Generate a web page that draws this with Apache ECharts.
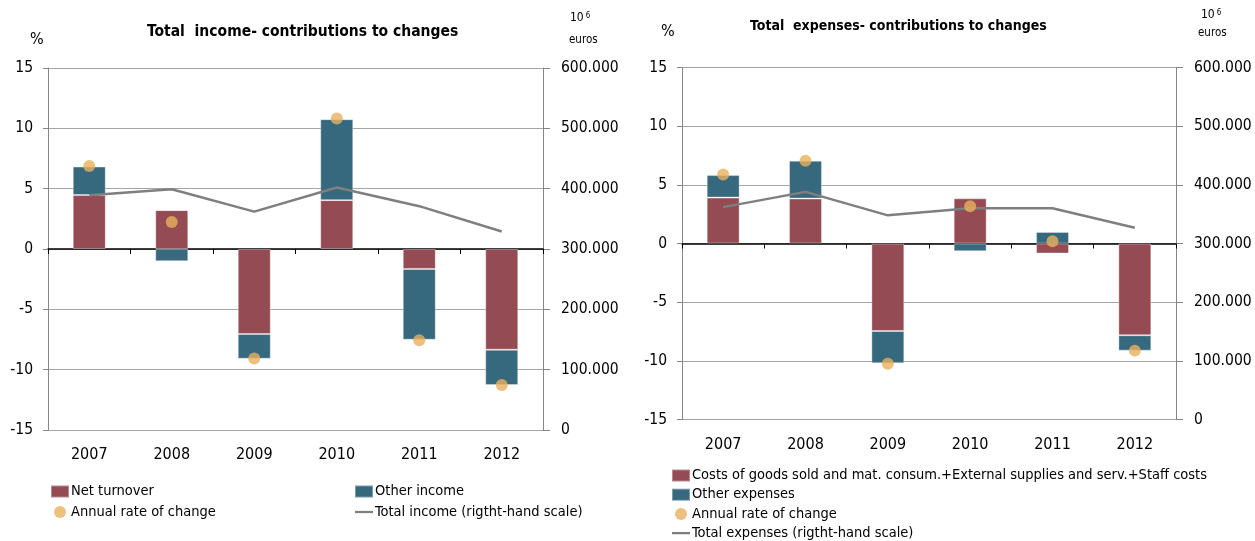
<!DOCTYPE html>
<html><head><meta charset="utf-8">
<script src="https://cdn.jsdelivr.net/npm/echarts@6/dist/echarts.min.js"></script>
<style>html,body{margin:0;padding:0;background:#fff}#c{width:1255px;height:541px}</style>
</head><body><div id="c"></div>
<script>
// ---- data ----
const years = ['2007', '2008', '2009', '2010', '2011', '2012'];
// left chart: Total income (contributions, % points)
const netTurnover = [4.47, 3.22, -7.05, 4.05, -1.65, -8.35];
const otherIncome = [2.36, -1.01, -2.05, 6.71, -5.87, -2.93];
const incomeRate = [6.88, 2.23, -9.07, 10.81, -7.57, -11.28];
const totalIncome = [389000, 399000, 362000, 402000, 371000, 329000]; // 10^6 euros
// right chart: Total expenses
const costs = [3.91, 3.83, -7.46, 3.85, -0.85, -7.82];
const otherExpenses = [1.92, 3.23, -2.75, -0.65, 0.99, -1.31];
const expensesRate = [5.89, 7.06, -10.24, 3.17, 0.20, -9.13];
const totalExpenses = [362000, 388000, 348000, 360000, 360000, 327000];
// axis ticks
const pctMin = -15, pctMax = 15, pctStep = 5;
const eurMin = 0, eurMax = 600000, eurStep = 100000;

const FONT = "'Liberation Sans Narrow','Arial Narrow','DejaVu Sans Condensed',sans-serif";
const RED = '#954b53', TEAL = '#37697e', DOT = '#e9b05c', LINE = '#7f7f7f', AX = '#868686';

function eur(v) { return String(v).replace(/\B(?=(\d{3})+(?!\d))/g, '.'); }

const grids = [
  { left: 48, right: 712, top: 68, bottom: 111 },
  { left: 682, right: 79, top: 67.5, bottom: 121.5 }
];

const xAxis = [], yAxis = [];
grids.forEach((g, i) => {
  xAxis.push({
    type: 'category', data: years, gridIndex: i, position: 'bottom',
    axisLine: { show: false, onZero: false }, axisTick: { show: false },
    axisLabel: { fontFamily: FONT, fontSize: 16, color: '#000', margin: 17 }
  });
  xAxis.push({
    type: 'category', data: years, gridIndex: i, position: 'top',
    axisLine: { show: true, onZero: true, lineStyle: { color: '#000', width: 1.5 } },
    axisTick: { show: true, inside: true, length: 5, lineStyle: { color: '#000' } },
    axisLabel: { show: false }
  });
  yAxis.push({
    type: 'value', gridIndex: i, position: 'left', min: pctMin, max: pctMax, interval: pctStep,
    axisLine: { show: true, lineStyle: { color: AX } },
    axisTick: { show: true, length: 5, lineStyle: { color: AX } },
    splitLine: { show: true, lineStyle: { color: '#a6a6a6' } },
    axisLabel: { fontFamily: FONT, fontSize: 15.5, color: '#000', margin: 15 }
  });
  yAxis.push({
    type: 'value', gridIndex: i, position: 'right', min: eurMin, max: eurMax, interval: eurStep,
    axisLine: { show: true, lineStyle: { color: AX } },
    axisTick: { show: true, length: 7, lineStyle: { color: AX } },
    splitLine: { show: false },
    axisLabel: { fontFamily: FONT, fontSize: 15.5, color: '#000', margin: 18, formatter: eur }
  });
});

function barSeries(name, data, color, gi, stack) {
  return { name, type: 'bar', data, stack, xAxisIndex: gi * 2, yAxisIndex: gi * 2,
    barWidth: '40%', itemStyle: { color, borderColor: 'rgba(255,255,255,0.35)', borderWidth: 1 }, z: 2 };
}
function dotSeries(name, data, gi) {
  return { name, type: 'scatter', data, xAxisIndex: gi * 2, yAxisIndex: gi * 2,
    symbolSize: 12, itemStyle: { color: DOT }, z: 5 };
}
function lineSeries(name, data, gi) {
  return { name, type: 'line', data, xAxisIndex: gi * 2, yAxisIndex: gi * 2 + 1,
    symbol: 'none', lineStyle: { color: LINE, width: 2.5 }, itemStyle: { color: LINE }, z: 4 };
}

const series = [
  barSeries('Net turnover', netTurnover, RED, 0, 'inc'),
  barSeries('Other income', otherIncome, TEAL, 0, 'inc'),
  dotSeries('Annual rate of change', incomeRate, 0),
  lineSeries('Total income (rigtht-hand scale)', totalIncome, 0),
  barSeries('Costs of goods sold and mat. consum.+External supplies and serv.+Staff costs', costs, RED, 1, 'exp'),
  barSeries('Other expenses', otherExpenses, TEAL, 1, 'exp'),
  dotSeries('Annual rate of change ', expensesRate, 1),
  lineSeries('Total expenses (rigtht-hand scale)', totalExpenses, 1)
];

const LINE_ICON = 'path://M0,0 L20,0 L20,2.5 L0,2.5 Z';
const legendBase = {
  orient: 'vertical', itemWidth: 18, itemHeight: 12, itemGap: 5.5, padding: 0,
  selectedMode: false,
  textStyle: { fontFamily: FONT, fontSize: 14.5, color: '#000', padding: [0, 0, 0, -3] }
};
const legend = [
  Object.assign({}, legendBase, { left: 50, top: 484, data: [
    { name: 'Net turnover', icon: 'rect' },
    { name: 'Annual rate of change', icon: 'circle' }] }),
  Object.assign({}, legendBase, { left: 354, top: 484, data: [
    { name: 'Other income', icon: 'rect' },
    { name: 'Total income (rigtht-hand scale)', icon: LINE_ICON }] }),
  Object.assign({}, legendBase, { left: 671, top: 468, itemGap: 4.2, data: [
    { name: 'Costs of goods sold and mat. consum.+External supplies and serv.+Staff costs', icon: 'rect' },
    { name: 'Other expenses', icon: 'rect' },
    { name: 'Annual rate of change ', icon: 'circle' },
    { name: 'Total expenses (rigtht-hand scale)', icon: LINE_ICON }] })
];

const plain = (s) => ({ fontFamily: FONT, fontSize: s, color: '#000', fontWeight: 'normal' });
const bold = (s) => ({ fontFamily: FONT, fontSize: s, color: '#000', fontWeight: 'bold' });
const unitRich = { rich: { a: plain(12), b: { fontFamily: FONT, fontSize: 8, color: '#000', verticalAlign: 'top', padding: [0, 0, 5, 2] } } };
const title = [
  { text: 'Total  income- contributions to changes', left: 147, top: 23.5, padding: 0, textStyle: bold(15.5) },
  { text: '%', left: 30, top: 32, padding: 0, textStyle: plain(16) },
  { text: '{a|10}{b|6}', left: 570, top: 11.5, padding: 0, textStyle: Object.assign(plain(12), unitRich) },
  { text: 'euros', left: 569, top: 34.5, padding: 0, textStyle: plain(11.5) },
  { text: 'Total  expenses- contributions to changes', left: 750, top: 19, padding: 0, textStyle: bold(14) },
  { text: '%', left: 661, top: 24, padding: 0, textStyle: plain(16) },
  { text: '{a|10}{b|6}', left: 1201, top: 8.5, padding: 0, textStyle: Object.assign(plain(12), unitRich) },
  { text: 'euros', left: 1198, top: 27.5, padding: 0, textStyle: plain(11.5) }
];

const chart = echarts.init(document.getElementById('c'), null, { renderer: 'canvas' });
chart.setOption({
  animation: false, backgroundColor: '#fff',
  title, legend, grid: grids, xAxis, yAxis, series
});
</script></body></html>
